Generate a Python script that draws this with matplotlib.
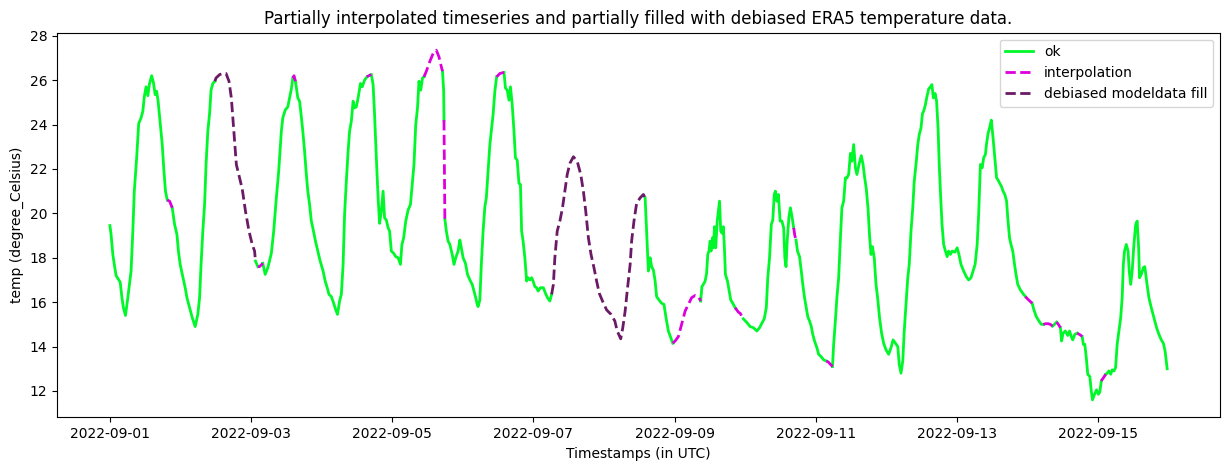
import numpy as np
import pandas as pd
from matplotlib import pyplot as plt
import matplotlib.dates as mdates

start = pd.Timestamp('2022-09-01 00:00')

# hours since start, temperature
hours = [
    0, 0.4, 1.0, 1.5, 2.1, 3.5, 4.1, 4.6, 5.3, 6.1, 6.9, 7.2, 7.8, 8.3, 9.1, 9.8, 10.6, 11.2, 11.7, 12.3,
    12.9, 13.4, 14.2, 14.8, 15.4, 15.9, 16.4, 17.1, 17.8, 18.3, 18.9, 19.5, 20.3, 21.2, 22.0, 22.8, 23.3, 23.9,
    24.8, 25.6, 26.2, 27.1, 28.0, 29.0, 29.9, 30.5, 31.0, 31.6, 32.2, 32.7, 33.3, 33.9, 34.4, 35.0, 35.7,
    36.1, 37.3, 38.4, 39.5, 40.5, 41.3, 41.8, 42.4, 43.0, 43.9, 45.0, 46.1, 47.3, 48.4, 49.2,
    49.5, 50.3, 50.9, 52.0, 52.8, 53.7, 54.9, 55.7, 56.6, 57.4, 58.3, 58.8, 59.6, 60.5, 61.1, 61.7, 62.2, 62.6,
    63.1, 63.9, 64.5, 65.1, 65.6, 66.2, 66.8, 67.3, 67.9, 68.5, 69.0, 69.9, 70.7, 71.5, 72.5, 73.2, 73.9, 74.5,
    75.3, 76.1, 76.8, 77.4, 78.1, 78.7, 79.3, 79.8, 80.4, 81.0, 81.5, 82.1, 82.7, 83.2, 83.8, 84.4, 85.2, 85.8,
    86.6, 87.4, 88.0, 88.9, 89.5, 90.0, 90.6, 91.2, 91.7, 92.3, 92.9, 93.4, 94.0, 94.6, 95.1, 95.7, 96.5, 97.2,
    98.0, 98.8, 99.3, 99.9, 100.6, 101.4, 102.2, 102.9, 103.4, 104.0, 104.6, 105.1, 105.7, 106.3, 106.8,
    107.6, 108.8, 109.9, 111.0, 111.9, 112.7, 113.1, 113.5, 113.6, 113.7, 113.8, 113.9, 114.4, 115.0, 115.6,
    116.4, 117.0, 117.6, 118.4, 119.0, 119.5, 120.1, 120.9, 121.6, 122.4, 123.2, 123.7, 124.4, 124.9, 125.2,
    125.8, 126.3, 126.9, 127.5, 128.0, 128.6, 129.2, 129.8, 130.3, 130.9, 131.5, 132.6, 134.0, 134.5, 135.1,
    135.7, 136.2, 136.8, 137.4, 137.9, 138.5, 139.1, 139.6, 140.0, 140.5, 141.1, 141.7, 142.2, 142.8, 143.4,
    143.9, 144.5, 145.1, 145.6, 146.4, 147.4, 148.1, 148.8, 149.6, 150.2,
    150.8, 151.3, 152.1, 153.0, 153.9, 154.7, 155.5, 156.4, 157.6, 158.9, 160.1, 161.0, 161.8, 162.7, 163.6,
    164.6, 165.5, 166.4, 167.5, 168.9, 170.4, 171.7, 172.5, 173.7, 174.4, 175.2, 175.9, 176.9, 177.4, 178.2,
    179.1, 180.3, 181.4,
    182.0, 182.5, 183.1, 183.7, 184.2, 184.8, 185.4, 185.9, 186.7, 187.6, 188.4, 189.1, 189.9, 190.7, 191.4,
    192.2, 193.3, 194.4, 195.6, 196.7, 197.8, 199.0, 200.1,
    200.9, 201.3, 201.8, 202.4, 202.9, 203.3, 203.7, 204.1, 204.4, 204.9, 205.2, 205.6, 206.0, 206.5, 206.9,
    207.3, 207.7, 208.2, 208.6, 209.0, 209.3, 210.0, 210.6, 211.1, 211.8, 212.6, 213.7, 214.3, 215.4, 216.8,
    217.7, 218.8, 220.0, 220.9, 221.7, 222.5, 223.2, 223.7, 224.3, 224.9, 225.4, 225.9, 226.3, 226.8, 227.3,
    227.9, 228.5, 229.1, 229.5, 229.9, 230.3, 230.9, 231.4, 232.0, 232.5, 232.9, 233.3, 233.8, 234.5, 235.1,
    235.6, 236.2, 236.8, 237.3, 237.9, 238.5, 239.0, 239.6, 240.4, 241.0, 241.8, 242.7, 243.6, 244.3, 245.0,
    245.7, 246.1, 246.6, 247.2, 247.8, 248.3, 248.9, 249.5, 250.1, 250.6, 251.2, 251.8, 252.3, 252.9, 253.5,
    254.0, 254.8, 255.5, 256.1, 256.6, 257.2, 257.8, 258.3, 258.8, 259.3, 259.9, 260.5, 261.05, 261.7, 262.4,
    263.1, 263.9, 264.8, 265.6, 266.3, 267.1, 267.9, 268.4, 269.0, 269.6, 270.1, 270.7, 271.3, 271.8, 272.4,
    273.0, 273.5, 274.1, 274.7, 275.2, 275.8, 276.3, 276.7, 277.3, 277.8, 278.4, 279.0, 279.5, 280.0, 280.6,
    281.1, 281.6, 282.0, 282.5, 282.95, 283.5, 284.1, 284.7, 285.2, 285.8, 286.4, 287.3, 288.1, 288.7, 289.4,
    290.3, 291.2, 292.0, 292.8, 293.5, 294.2, 294.9, 295.4, 296.0, 296.6, 297.1, 297.7, 298.05, 298.6, 299.2,
    299.7, 300.3, 300.9, 301.5, 302.0, 302.6, 303.2, 303.7, 304.3, 304.9, 305.3, 305.9, 306.4, 307.0, 307.6,
    308.1, 308.7, 309.6, 310.4, 311.3, 312.0, 312.8, 313.6, 314.2, 315.0, 315.9, 316.7, 317.4, 318.2, 319.0,
    319.8, 320.5, 321.2, 321.9, 322.5, 323.2, 323.6, 324.1, 324.9, 325.7, 326.3, 326.9, 327.4, 328.1, 328.9,
    329.6, 330.2, 330.6, 331.0, 331.5, 332.0, 332.5, 333.2, 333.7, 334.1, 334.8, 335.5, 336.1, 336.6, 337.1,
    337.6, 338.1, 338.6, 339.1, 339.7, 340.3, 340.8, 341.4, 341.96, 342.5, 343.1, 343.7, 344.2, 344.6, 345.0,
    345.6, 346.2, 346.6, 347.1, 347.6, 348.2, 348.8, 349.3, 349.8, 350.1, 350.7, 351.4, 351.9, 352.5, 353.3,
    354.1, 355.0, 355.9, 356.7, 357.5, 358.2, 358.8, 359.5,
]
temp = [
    19.45, 19.05, 18.15, 17.7, 17.2, 16.9, 16.2, 15.75, 15.4, 16.2, 17.1, 17.4, 19.2, 21.0, 22.5, 24.05, 24.3, 24.6, 25.25, 25.7,
    25.3, 25.8, 26.2, 25.9, 25.35, 25.5, 25.05, 24.1, 23.1, 22.05, 21.0, 20.6, 20.55, 20.25, 19.5, 19.05, 18.3, 17.7,
    17.15, 16.65, 16.2, 15.75, 15.3, 14.9, 15.45, 16.2, 17.7, 19.2, 20.4, 22.2, 23.7, 24.5, 25.55, 25.85, 25.95,
    26.1, 26.25, 26.3, 26.3, 25.95, 25.2, 24.3, 23.25, 22.2, 21.7, 21.1, 20.1, 19.2, 18.6, 18.3,
    17.85, 17.6, 17.6, 17.75, 17.25, 17.55, 18.2, 19.2, 20.7, 21.9, 23.7, 24.3, 24.65, 24.8, 25.2, 25.6, 26.1, 26.2,
    25.95, 25.2, 25.05, 24.35, 23.7, 22.8, 21.75, 21.0, 20.4, 19.65, 19.35, 18.75, 18.3, 17.85, 17.4, 16.95, 16.65, 16.35,
    16.25, 15.95, 15.65, 15.45, 16.05, 16.35, 17.7, 19.95, 21.45, 22.8, 23.7, 24.15, 25.05, 24.75, 24.8, 25.2, 25.85, 25.7,
    26.0, 26.15, 26.2, 26.25, 25.8, 24.45, 22.5, 20.7, 19.55, 20.1, 21.0, 19.8, 19.7, 19.35, 19.2, 18.3, 18.2, 18.05,
    18.0, 17.7, 18.6, 18.9, 19.65, 20.15, 20.4, 21.45, 22.2, 24.0, 24.75, 25.95, 25.55, 26.1, 26.15,
    26.4, 26.85, 27.2, 27.35, 27.05, 26.6, 26.4, 25.5, 24.2, 22.7, 21.3, 19.75, 19.2, 18.75, 18.6,
    18.15, 17.7, 18.0, 18.3, 18.8, 18.45, 18.0, 17.75, 17.25, 17.0, 16.8, 16.55, 16.2, 15.9, 15.8,
    16.1, 17.7, 19.2, 20.3, 20.7, 21.9, 23.1, 23.85, 24.45, 25.5, 26.15, 26.3, 26.35, 25.65, 25.55,
    25.1, 25.7, 24.9, 23.7, 22.5, 22.4, 21.35, 21.3, 19.2, 18.75, 18.0, 16.95, 17.1, 17.0, 17.1,
    16.95, 16.7, 16.65, 16.5, 16.65, 16.65, 16.4, 16.2, 16.05, 16.35,
    16.8, 18.0, 19.2, 19.65, 20.25, 21.0, 21.75, 22.25, 22.55, 22.35, 21.75, 21.0, 20.1, 18.9, 18.15,
    17.55, 16.95, 16.4, 16.05, 15.65, 15.45, 15.15, 14.7, 14.35, 14.85, 15.6, 16.5, 17.7, 18.75, 19.65,
    20.45, 20.7, 20.85,
    20.7, 19.2, 17.4, 18.0, 17.6, 17.45, 16.95, 16.25, 16.1, 15.95, 15.9, 15.3, 14.7, 14.4, 14.15,
    14.25, 14.45, 15.0, 15.6, 15.9, 16.2, 16.3, 16.25,
    16.05, 16.7, 16.8, 16.95, 17.3, 18.15, 18.3, 18.75, 18.3, 18.9, 18.45, 19.4, 18.45, 19.65, 20.1,
    20.55, 19.2, 19.1, 19.4, 18.3, 17.25, 16.95, 16.5, 16.1, 15.95, 15.75, 15.55, 15.5, 15.25, 15.05,
    14.9, 14.85, 14.7, 14.85, 15.05, 15.25, 15.75, 17.1, 18.0, 19.5, 19.7, 20.85, 21.0, 20.55, 20.85,
    19.65, 19.65, 19.35, 18.0, 17.6, 18.75, 19.85, 20.25, 19.8, 19.35, 19.0, 18.8, 18.3, 18.05, 17.4,
    16.8, 16.2, 15.75, 15.35, 15.15, 14.9, 14.55, 14.25, 13.95, 13.65, 13.55, 13.4, 13.35, 13.3, 13.2,
    13.1, 14.1, 15.0, 16.2, 17.1, 18.6, 20.25, 20.55, 21.6, 21.6, 21.75, 22.7, 22.35, 23.1, 22.05,
    21.75, 22.25, 22.6, 22.2, 21.65, 21.1, 20.2, 19.0, 18.15, 18.5, 18.0, 16.8, 16.2, 15.3, 14.6,
    14.15, 13.85, 13.65, 13.95, 14.3, 14.15, 14.0, 13.2, 12.8, 13.35, 14.7, 15.9, 17.1, 17.7, 19.2,
    20.25, 21.45, 22.2, 23.1, 23.55, 23.85, 24.5, 24.6, 24.9, 25.25, 25.6, 25.7, 25.8, 25.2, 25.4,
    25.05, 23.85, 22.2, 20.7, 19.5, 18.6, 18.3, 18.05, 18.3, 18.15, 18.3, 18.25, 18.45, 18.15, 17.7,
    17.4, 17.15, 17.0, 17.1, 17.4, 17.7, 18.6, 19.95, 22.2, 22.05, 22.5, 22.65, 23.1, 23.6, 23.9,
    24.2, 23.4, 22.5, 21.6, 21.5, 21.35, 21.2, 21.0, 20.85, 20.55, 19.8, 18.9, 18.6, 18.3, 17.7,
    17.25, 16.8, 16.55, 16.4, 16.25, 16.15, 16.05, 15.95, 15.65, 15.35, 15.15, 15.0, 15.0, 15.03, 15.03,
    15.0, 14.92, 15.0, 15.1, 15.0, 14.85, 14.25, 14.6, 14.7, 14.5, 14.7, 14.45, 14.3, 14.55, 14.6,
    14.55, 14.5, 14.45, 14.1, 14.1, 13.5, 12.75, 12.65, 12.0, 11.6, 11.85, 12.05, 11.85, 11.95, 12.45,
    12.55, 12.65, 12.75, 12.8, 12.9, 12.75, 12.95, 12.9, 13.05, 14.1, 14.7, 15.3, 16.2, 17.7, 18.3,
    18.6, 18.3, 17.4, 16.8, 17.4, 18.6, 19.5, 19.65, 18.45, 17.1, 17.25, 17.55, 17.6, 16.95, 16.2,
    15.75, 15.3, 14.85, 14.55, 14.3, 14.15, 13.8, 13.0,
]

# periods (hours since start) flagged as interpolated / filled with debiased ERA5
interp_periods = [(20.3, 20.3), (50.9, 50.9), (62.6, 62.6), (88.0, 88.0), (107.6, 112.7),
                  (113.7, 113.8), (132.6, 132.6), (192.2, 200.1), (213.7, 214.3), (232.9, 232.9),
                  (244.3, 245.0), (312.0, 312.8), (318.2, 319.8), (322.5, 322.5), (329.6, 330.2),
                  (337.6, 338.1)]
fill_periods = [(36.1, 49.2), (150.8, 181.4)]

h = np.array(hours)
t = np.array(temp)
times = start + pd.to_timedelta(h, unit='h')


def in_periods(periods):
    m = np.zeros(len(h), dtype=bool)
    for a, b in periods:
        m |= (h >= a - 1e-6) & (h <= b + 1e-6)
    return m


is_interp = in_periods(interp_periods)
is_fill = in_periods(fill_periods)
is_ok = ~(is_interp | is_fill)


def grow(m):
    # include neighbours so the dashed parts join the ok line
    g = m.copy()
    g[1:] |= m[:-1]
    g[:-1] |= m[1:]
    return g


fig = plt.figure(figsize=(12.29, 4.70), dpi=100)
ax = fig.add_axes([0.0464, 0.1121, 0.9463, 0.8183])

ax.plot(times, np.where(is_ok, t, np.nan), color='#00f72a', lw=2, label='ok')
ax.plot(times, np.where(grow(is_interp), t, np.nan), color='#dd00dd', lw=2, ls='--', label='interpolation')
ax.plot(times, np.where(grow(is_fill), t, np.nan), color='#6b1a66', lw=2, ls='--', label='debiased modeldata fill')

ax.xaxis.set_major_locator(mdates.DayLocator(interval=2))
ax.xaxis.set_major_formatter(mdates.DateFormatter('%Y-%m-%d'))
ax.set_yticks([12, 14, 16, 18, 20, 22, 24, 26, 28])

ax.set_title('Partially interpolated timeseries and partially filled with debiased ERA5 temperature data.')
ax.set_xlabel('Timestamps (in UTC)')
ax.set_ylabel('temp (degree_Celsius)')
ax.legend(loc='upper right')

fig.savefig('out.png', dpi=100)
